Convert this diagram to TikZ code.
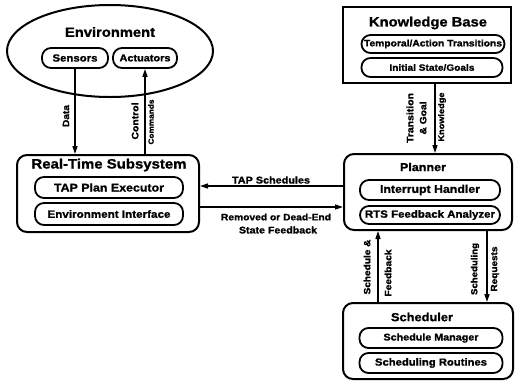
\documentclass[tikz,border=0pt]{standalone}
\usepackage{fontspec}
\usepackage{graphicx}
\newfontfamily\hv[FakeStretch=1.1,BoldFeatures={FakeBold=1.2}]{Liberation Sans}
\usetikzlibrary{shapes.geometric,arrows.meta}
\newcommand{\fw}[2]{\resizebox{#1pt}{!}{\hv\bfseries #2}}
\begin{document}
\begin{tikzpicture}[x=1pt,y=-1pt,
  frame/.style={draw, line width=2pt, rounded corners=10pt, inner sep=0pt},
  kbframe/.style={draw, line width=2pt, inner sep=0pt},
  pill/.style={draw, line width=1.8pt, rounded corners=9pt, inner sep=0pt},
  arr/.style={line width=1.5pt, -{Triangle[length=8pt,width=5pt]}},
  lab/.style={inner sep=0pt},
  vlab/.style={inner sep=0pt, rotate=90}]
\useasboundingbox (0,0) rectangle (517,384);
% Environment
\node[ellipse, draw, line width=2pt, minimum width=206pt, minimum height=92pt, inner sep=0pt] (env) at (110,51) {};
\node[lab] (envt) at (110,32) {\fw{90}{Environment}};
\node[pill, minimum width=66pt, minimum height=20pt] (sens) at (75,58) {\fw{45}{Sensors}};
\node[pill, minimum width=64pt, minimum height=20pt] (act) at (145,58) {\fw{51}{Actuators}};
% Knowledge base
\node[kbframe, minimum width=168pt, minimum height=76pt] (kb) at (427,45) {};
\node[lab] (kbt) at (428,23) {\fw{118}{Knowledge Base}};
\node[pill, minimum width=143pt, minimum height=18pt] (tat) at (433,44) {\fw{138}{Temporal/Action Transitions}};
\node[pill, minimum width=141pt, minimum height=19pt] (isg) at (432,67.5) {\fw{85}{Initial State/Goals}};
% Real-time subsystem
\node[frame, minimum width=182pt, minimum height=77pt] (rts) at (108,193.5) {};
\node[lab] (rtst) at (109,165) {\fw{155}{Real-Time Subsystem}};
\node[pill, minimum width=148pt, minimum height=21pt] (tape) at (109,187.5) {\fw{110}{TAP Plan Executor}};
\node[pill, minimum width=148pt, minimum height=22pt] (envi) at (109,214) {\fw{123}{Environment Interface}};
% Planner
\node[frame, minimum width=168pt, minimum height=76pt] (pl) at (428,192) {};
\node[lab] (plt) at (423,167) {\fw{46}{Planner}};
\node[pill, minimum width=140pt, minimum height=20pt] (ih) at (430,190) {\fw{100}{Interrupt Handler}};
\node[pill, minimum width=140pt, minimum height=18pt] (rfa) at (430,215) {\fw{130}{RTS Feedback Analyzer}};
% Scheduler
\node[frame, minimum width=170pt, minimum height=76pt] (sch) at (428,341) {};
\node[lab] (scht) at (422,317) {\fw{62}{Scheduler}};
\node[pill, minimum width=143pt, minimum height=20pt] (sm) at (431,338) {\fw{95}{Schedule Manager}};
\node[pill, minimum width=143pt, minimum height=20pt] (sr) at (431,363) {\fw{112}{Scheduling Routines}};
% Connectors
\draw[arr] (sens.south) -- (sens.south |- rts.north);
\draw[arr] (act.south |- rts.north) -- (act.south);
\draw[arr] ([xshift=8pt]kb.south) -- ([xshift=8pt]kb.south |- pl.north);
\draw[arr] ([yshift=6pt]pl.west) -- ([yshift=6pt]pl.west -| rts.east);
\draw[arr] ([yshift=-15pt]pl.west -| rts.east) -- ([yshift=-15pt]pl.west);
\draw[arr] ([xshift=-50pt]sch.north) -- ([xshift=-50pt]sch.north |- pl.south);
\draw[arr] ([xshift=59pt]pl.south) -- ([xshift=59pt]pl.south |- sch.north);
% Labels
\node[vlab] (ldata) at (66,116) {\fw{22}{Data}};
\node[vlab] (lctl) at (135,121) {\fw{37}{Control}};
\node[vlab] (lcmd) at (151,122) {\fw{45}{Commands}};
\node[lab] (ltap) at (271,180) {\fw{78}{TAP Schedules}};
\node[lab] (lrem) at (276,217) {\fw{110}{Removed or Dead-End}};
\node[lab] (lsf) at (278,230) {\fw{78}{State Feedback}};
\node[vlab] (ltr) at (410,118) {\fw{50}{Transition}};
\node[vlab] (lgoal) at (423,118) {\fw{33}{\& Goal}};
\node[vlab] (lknow) at (442,117) {\fw{49}{Knowledge}};
\node[vlab] (lsch) at (367,267) {\fw{55}{Schedule \&}};
\node[vlab] (lfb) at (388,273) {\fw{47}{Feedback}};
\node[vlab] (lsing) at (475,269) {\fw{52}{Scheduling}};
\node[vlab] (lreq) at (495,269) {\fw{45}{Requests}};
\end{tikzpicture}
\end{document}
